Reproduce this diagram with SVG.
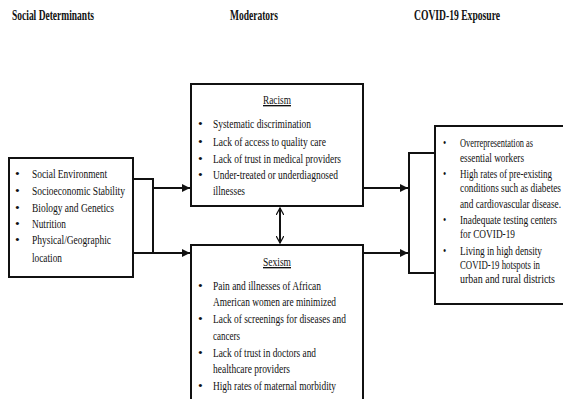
<svg xmlns="http://www.w3.org/2000/svg" width="563" height="399" viewBox="0 0 563 399">
<defs>
<style>
.t{font-family:"Liberation Serif","Times New Roman",serif;font-size:13.5px;fill:#111}
.h{font-family:"Liberation Serif","Times New Roman",serif;font-size:15px;font-weight:bold;fill:#111}
.box{fill:#fff;stroke:#111;stroke-width:2}
.ln{fill:none;stroke:#111;stroke-width:2}
.u{text-decoration:underline}
</style>
<marker id="ah" viewBox="0 0 10 10" refX="10" refY="5" markerWidth="4" markerHeight="4" orient="auto" markerUnits="strokeWidth">
<path d="M0,0 L10,5 L0,10 z" fill="#111"/>
</marker>
<marker id="oh" viewBox="0 0 10 10" refX="9" refY="5" markerWidth="4" markerHeight="4" orient="auto-start-reverse" markerUnits="strokeWidth">
<path d="M0,0 L9,5 L0,10" fill="none" stroke="#111" stroke-width="1.6"/>
</marker>
</defs>
<rect width="563" height="399" fill="#fff"/>
<g id="titles">
<text class="h" x="12" y="20" textLength="82" lengthAdjust="spacingAndGlyphs">Social Determinants</text>
<text class="h" x="230" y="20" textLength="48" lengthAdjust="spacingAndGlyphs">Moderators</text>
<text class="h" x="414" y="20" textLength="86" lengthAdjust="spacingAndGlyphs">COVID-19 Exposure</text>
</g>
<g id="connectors">
<path class="ln" d="M133,179 H153 V253"/>
<path class="ln" d="M153,188 H190" marker-end="url(#ah)"/>
<path class="ln" d="M133,253 H190" marker-end="url(#ah)"/>
<path class="ln" d="M363,188 H408" marker-end="url(#ah)"/>
<path class="ln" d="M363,253 H408" marker-end="url(#ah)"/>
<path class="ln" d="M435,153 H409 V273 H435"/>
<path class="ln" d="M280,208 V243" marker-start="url(#oh)" marker-end="url(#oh)"/>
</g>
<g id="social-determinants">
<rect class="box" x="9" y="158" width="124" height="119"/>
<g class="t">
<text x="15" y="178">•</text><text x="32" y="178" textLength="75" lengthAdjust="spacingAndGlyphs">Social Environment</text>
<text x="15" y="195">•</text><text x="32" y="195" textLength="93" lengthAdjust="spacingAndGlyphs">Socioeconomic Stability</text>
<text x="15" y="212">•</text><text x="32" y="212" textLength="82" lengthAdjust="spacingAndGlyphs">Biology and Genetics</text>
<text x="15" y="228">•</text><text x="32" y="228" textLength="34" lengthAdjust="spacingAndGlyphs">Nutrition</text>
<text x="15" y="244">•</text><text x="32" y="244" textLength="79" lengthAdjust="spacingAndGlyphs">Physical/Geographic</text>
<text x="32" y="262" textLength="30" lengthAdjust="spacingAndGlyphs">location</text>
</g>
</g>
<g id="racism">
<rect class="box" x="191" y="84" width="172" height="122"/>
<g class="t">
<text class="u" x="277" y="104" text-anchor="middle" textLength="28" lengthAdjust="spacingAndGlyphs">Racism</text>
<text x="198" y="128">•</text><text x="213" y="128" textLength="98" lengthAdjust="spacingAndGlyphs">Systematic discrimination</text>
<text x="198" y="146">•</text><text x="213" y="146" textLength="113" lengthAdjust="spacingAndGlyphs">Lack of access to quality care</text>
<text x="198" y="163">•</text><text x="213" y="163" textLength="128" lengthAdjust="spacingAndGlyphs">Lack of trust in medical providers</text>
<text x="198" y="179">•</text><text x="213" y="179" textLength="125" lengthAdjust="spacingAndGlyphs">Under-treated or underdiagnosed</text>
<text x="213" y="195" textLength="32" lengthAdjust="spacingAndGlyphs">illnesses</text>
</g>
</g>
<g id="sexism">
<rect class="box" x="191" y="245" width="172" height="165"/>
<g class="t">
<text class="u" x="277" y="266" text-anchor="middle" textLength="28" lengthAdjust="spacingAndGlyphs">Sexism</text>
<text x="198" y="290">•</text><text x="213" y="290" textLength="108" lengthAdjust="spacingAndGlyphs">Pain and illnesses of African</text>
<text x="213" y="306" textLength="123" lengthAdjust="spacingAndGlyphs">American women are minimized</text>
<text x="198" y="323">•</text><text x="213" y="323" textLength="133" lengthAdjust="spacingAndGlyphs">Lack of screenings for diseases and</text>
<text x="213" y="340" textLength="27" lengthAdjust="spacingAndGlyphs">cancers</text>
<text x="198" y="357">•</text><text x="213" y="357" textLength="103" lengthAdjust="spacingAndGlyphs">Lack of trust in doctors and</text>
<text x="213" y="373" textLength="77" lengthAdjust="spacingAndGlyphs">healthcare providers</text>
<text x="198" y="390">•</text><text x="213" y="390" textLength="123" lengthAdjust="spacingAndGlyphs">High rates of maternal morbidity</text>
</g>
</g>
<g id="covid-exposure">
<rect class="box" x="435" y="126" width="129" height="178"/>
<g class="t" transform="translate(460 0) scale(0.68 1)">
<text x="-25" y="147">•</text><text x="0" y="147" textLength="107.4" lengthAdjust="spacingAndGlyphs">Overrepresentation as</text>
<text x="0" y="162" textLength="94.1" lengthAdjust="spacingAndGlyphs">essential workers</text>
<text x="-25" y="178">•</text><text x="0" y="178" textLength="135.3" lengthAdjust="spacingAndGlyphs">High rates of pre-existing</text>
<text x="0" y="192" textLength="148.5" lengthAdjust="spacingAndGlyphs">conditions such as diabetes</text>
<text x="0" y="208" textLength="148.5" lengthAdjust="spacingAndGlyphs">and cardiovascular disease.</text>
<text x="-25" y="224">•</text><text x="0" y="224" textLength="142.6" lengthAdjust="spacingAndGlyphs">Inadequate testing centers</text>
<text x="0" y="238" textLength="80.9" lengthAdjust="spacingAndGlyphs">for COVID-19</text>
<text x="-25" y="255">•</text><text x="0" y="255" textLength="120.6" lengthAdjust="spacingAndGlyphs">Living in high density</text>
<text x="0" y="269" textLength="117.6" lengthAdjust="spacingAndGlyphs">COVID-19 hotspots in</text>
<text x="0" y="283" textLength="139.7" lengthAdjust="spacingAndGlyphs">urban and rural districts</text>
</g>
</g>
</svg>
